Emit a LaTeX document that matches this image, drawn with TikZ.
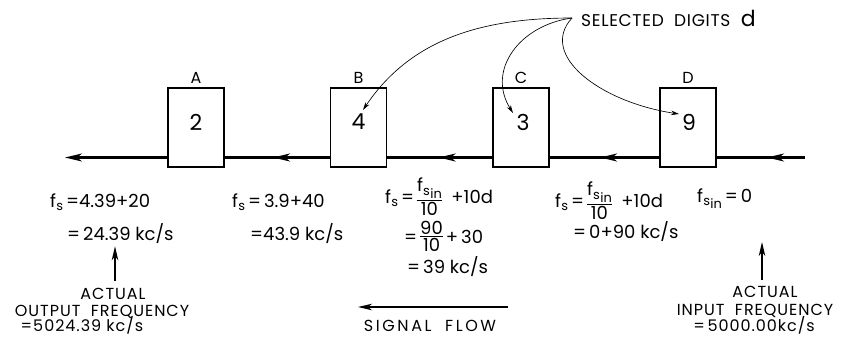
\documentclass[tikz,border=0pt]{standalone}
\usepackage{fontspec}
\setmainfont{Poppins}
\usepackage{graphicx}
\usetikzlibrary{arrows.meta,decorations.markings}
\newcommand{\fS}{f\kern0.2pt\raisebox{-0.35ex}{\scalebox{0.72}{s}}}
\newcommand{\fSin}{f\kern0.2pt\raisebox{-0.35ex}{\scalebox{0.72}{s\kern0.5pt\raisebox{-0.4ex}{in}}}}
\newcommand{\frc}[2]{\raisebox{2pt}{$\vcenter{\offinterlineskip\halign{\hfil##\hfil\cr #1\cr\noalign{\kern1.5pt\hrule height 0.9pt\kern1.5pt}#2\cr}}$}}
\begin{document}
\begin{tikzpicture}[x=1pt,y=-1pt,
  blk/.style={draw, line width=1.4pt, minimum width=56pt, minimum height=79pt, inner sep=0pt},
  flow/.style={line width=2.1pt},
  midarrow/.style={postaction={decorate}, decoration={markings, mark=at position #1 with {\arrow{Stealth[length=17pt,width=8pt,inset=5pt]}}}},
  endarrow/.style={-{Stealth[length=17pt,width=8pt,inset=5pt]}},
  selarrow/.style={line width=0.65pt, -{Stealth[length=8pt,width=4.5pt]}},
  uparrow/.style={line width=1.4pt, -{Stealth[length=14pt,width=6.5pt,inset=4pt]}},
  lbl/.style={font=\fontsize{16}{18}\selectfont, inner sep=0pt},
  digit/.style={font=\fontsize{22}{25}\selectfont, inner sep=0pt},
  txt/.style={font=\fontsize{16}{19}\selectfont\addfontfeatures{LetterSpace=6}, inner sep=0pt},
  eq/.style={font=\fontsize{18}{21}\selectfont, inner sep=0pt}]
\useasboundingbox (0,0) rectangle (842,337);
% blocks
\node[blk] (A) at (196,127.5) {};
\node[blk] (B) at (358.5,127.5) {};
\node[blk] (C) at (521,127.5) {};
\node[blk] (D) at (688,127.5) {};
\node[lbl] (lA) at (196,78) {A};
\node[lbl] (lB) at (358.5,78) {B};
\node[lbl] (lC) at (521,78) {C};
\node[lbl] (lD) at (688,78) {D};
\node[digit] (dA) at (196,122) {2};
\node[digit] (dB) at (358.5,122) {4};
\node[digit] (dC) at (523,122) {3};
\node[digit] (dD) at (689,122) {9};
% main signal line
\coordinate (in) at (805,157.5);
\coordinate (out) at (65,157.5);
\draw[flow, midarrow=0.43] (in) -- (D.east |- in);
\draw[flow, midarrow=0.54] (D.west |- in) -- (C.east |- in);
\draw[flow, midarrow=0.51] (C.west |- in) -- (B.east |- in);
\draw[flow, midarrow=0.54] (B.west |- in) -- (A.east |- in);
\draw[flow, endarrow] (A.west |- in) -- (out);
% selected digits
\coordinate (sp) at (572,18);
\node[txt, anchor=west, font=\fontsize{17}{19}\selectfont\addfontfeatures{LetterSpace=4}] (sel) at (581,18) {SELECTED\ \ DIGITS\ \ {\fontsize{22}{24}\selectfont d}};
\coordinate (tB) at (363,110);
\coordinate (tC) at (513,113);
\coordinate (tD) at (679,114);
\draw[selarrow] (sp) .. controls (480,18) and (410,40) .. (tB);
\draw[selarrow] (sp) .. controls (520,25) and (486,70) .. (tC);
\draw[selarrow] (sp) .. controls (538,55) and (600,102) .. (tD);
% stage A
\node[eq, anchor=base west] (fa1) at (50,207) {\fS\,=4.39+20};
\node[eq, anchor=base west] (fa2) at (67,240) {=\,24.39 kc/s};
% stage B
\node[eq, anchor=base west] (fb1) at (232,207) {\fS\,=\,3.9+40};
\node[eq, anchor=base west] (fb2) at (250,240) {=43.9 kc/s};
% stage C
\node[eq, anchor=base west] (fc1) at (385,203) {\fS\,=\,\frc{\fSin}{10}\ \ +10d};
\node[eq, anchor=base west] (fc2) at (404,243) {=\,\frc{90}{10}\,+\,30};
\node[eq, anchor=base west] (fc3) at (407,273) {=\,39 kc/s};
% stage D
\node[eq, anchor=base west] (fd1) at (555,207) {\fS\,=\,\frc{\fSin}{10}\ \ +10d};
\node[eq, anchor=base west] (fd2) at (573,238) {=\,0+90 kc/s};
% input
\node[eq, anchor=base west] (fin) at (697,202) {\fSin\,=\,0};
% output notes
\node[txt, anchor=base] (act1) at (113,299) {ACTUAL};
\node[txt, anchor=base] (of) at (102,316) {OUTPUT\ \ FREQUENCY};
\node[txt, anchor=base] (ov) at (82,331) {=5024.39 kc/s};
\coordinate (u1) at (115,281);
\draw[uparrow, shorten >=3pt] (u1) -- (u1 |- fa2.south);
\node[txt, anchor=base] (act2) at (765,297) {ACTUAL};
\node[txt, anchor=base] (inf) at (755,315) {INPUT\ \ FREQUENCY};
\node[txt, anchor=base] (iv) at (754,331) {=\,5000.00kc/s};
% signal flow
\node[txt, anchor=base, font=\fontsize{16}{19}\selectfont\addfontfeatures{LetterSpace=16}] (sf) at (430,331) {SIGNAL\ \ FLOW};
\coordinate (sfa) at (508,307);
\coordinate (sfb) at (358,307);
\draw[uparrow] (sfa) -- (sfb);
\coordinate (u2a) at (762,280);
\coordinate (u2b) at (762,242);
\draw[uparrow] (u2a) -- (u2b);
\end{tikzpicture}
\end{document}
